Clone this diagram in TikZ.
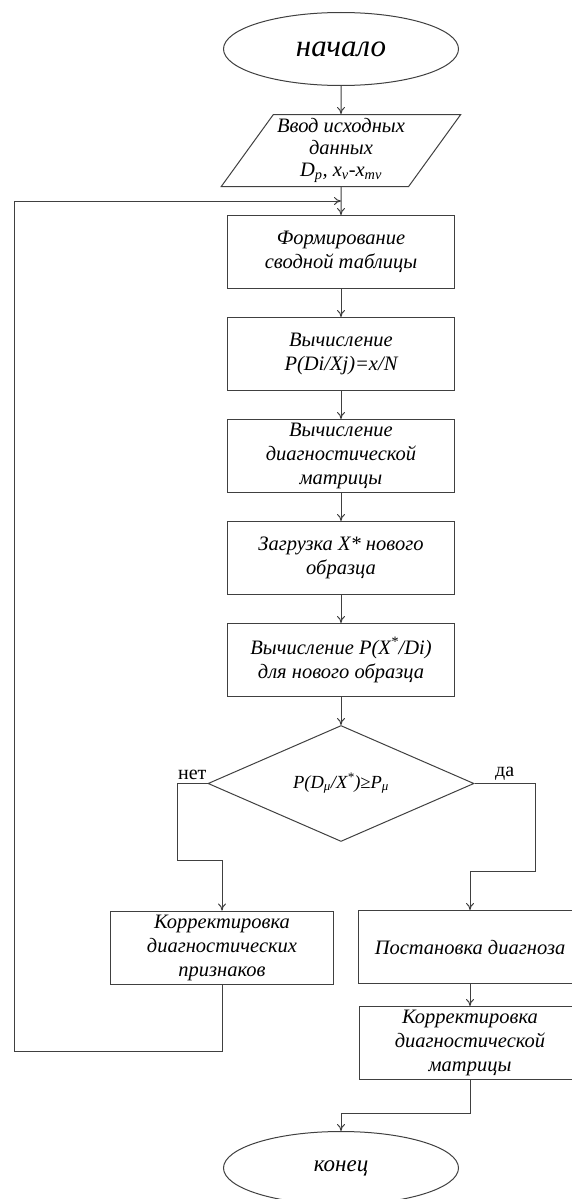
\documentclass[tikz,border=0pt]{standalone}
\usepackage{fontspec}
\setmainfont{Liberation Serif}
\usetikzlibrary{arrows.meta, positioning, shapes.geometric}

\begin{document}
\begin{tikzpicture}[
    x=1pt, y=1pt,
    node distance=28pt,
    line/.style={draw=black!75, line width=1pt},
    box/.style={rectangle, line, minimum width=227pt, minimum height=73pt, align=center, inner sep=1pt, font=\itshape\fontsize{20.5}{24}\selectfont},
    term/.style={ellipse, line, minimum width=235pt, minimum height=73pt, inner sep=0pt, font=\itshape\fontsize{31}{33}\selectfont},
    io/.style={trapezium, trapezium left angle=52.6, trapezium right angle=127.4, trapezium stretches=true, line, minimum width=240pt, minimum height=72pt, inner sep=0pt, align=center, font=\itshape\fontsize{20.5}{22}\selectfont},
    cond/.style={diamond, line, minimum width=266pt, minimum height=110pt, inner sep=0pt, font=\itshape\fontsize{18.5}{20}\selectfont},
    lbl/.style={font=\fontsize{20}{22}\selectfont, inner sep=3pt},
    arrow/.style={line, -{To[length=7pt, width=8pt]}}
]
\fill[white] (0,0) rectangle (572,-1199);
\useasboundingbox (0,0) rectangle (572,-1199);

\node[term] (start) at (341,-49) {начало};
\node[io, below=of start] (inp) {Ввод исходных\\данных\\D\textsubscript{p}, x\textsubscript{v}-x\textsubscript{mv}};
\node[box, below=of inp] (tab) {Формирование\\сводной таблицы};
\node[box, below=of tab] (prob) {Вычисление\\P(Di/Xj)=x/N};
\node[box, below=of prob] (matr) {Вычисление\\диагностической\\матрицы};
\node[box, below=of matr] (load) {Загрузка X* нового\\образца};
\node[box, below=of load] (newp) {Вычисление P(X\textsuperscript{*}/Di)\\для нового образца};
\node[cond, below=of newp] (dec) {P(D\textsubscript{μ}/X\textsuperscript{*})≥P\textsubscript{μ}};

\node[box, minimum width=223pt] (corr) at (222,-947.5) {Корректировка\\диагностических\\признаков};
\node[box, minimum width=224pt] (diag) at (470,-947) {Постановка диагноза};
\node[box, minimum width=222pt, below=22pt of diag] (upd) {Корректировка\\диагностической\\матрицы};
\node[term, font=\itshape\fontsize{23}{25}\selectfont] (stop) at (341,-1168) {конец};

\coordinate[below=14pt of inp.south] (join);
\coordinate (nturn) at (177,-860);
\coordinate (yturn) at (535,-871);
\coordinate (back) at (14,-1051);
\coordinate (eturn) at (400,-1113);

\draw[arrow] (start) -- (inp);
\draw[arrow] (inp) -- (tab);
\draw[arrow] (tab) -- (prob);
\draw[arrow] (prob) -- (matr);
\draw[arrow] (matr) -- (load);
\draw[arrow] (load) -- (newp);
\draw[arrow] (newp) -- (dec);

\draw[arrow] (dec.west) -| node[lbl, pos=0.25, above] {нет} (nturn) -| (corr.north);
\draw[arrow] (dec.east) -| node[lbl, pos=0.25, above] {да} (yturn) -| (diag.north);
\draw[arrow] (diag) -- (upd);
\draw[arrow] (upd.south) |- (eturn) -| (stop.north);

% back to the table
\draw[arrow] (corr.south) |- (back) |- (join);
\end{tikzpicture}
\end{document}
